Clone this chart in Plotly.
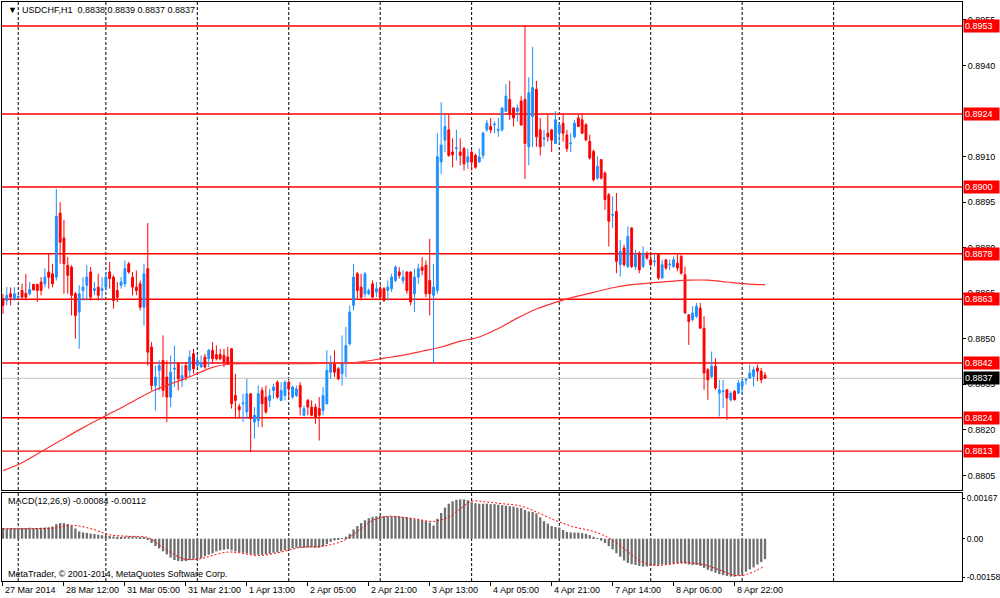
import numpy as np
import pandas as pd
import plotly.graph_objects as go

# === USDCHF H1 candles (first bar 27 Mar 2014 20:00) ===
open_ = [
    0.88632, 0.88626, 0.88648, 0.88632, 0.88637, 0.88659, 0.88650, 0.88648, 0.88679, 0.88679,
    0.88687, 0.88681, 0.88720, 0.88714, 0.88703, 0.88914, 0.88832, 0.88742, 0.88736, 0.88648,
    0.88588, 0.88659, 0.88676, 0.88720, 0.88659, 0.88670, 0.88659, 0.88670, 0.88720, 0.88703,
    0.88659, 0.88676, 0.88681, 0.88747, 0.88703, 0.88670, 0.88681, 0.88604, 0.88731, 0.88473,
    0.88346, 0.88396, 0.88429, 0.88374, 0.88308, 0.88400, 0.88418, 0.88363, 0.88412, 0.88396,
    0.88451, 0.88412, 0.88407, 0.88440, 0.88434, 0.88462, 0.88448, 0.88448, 0.88445, 0.88440,
    0.88467, 0.88313, 0.88277, 0.88286, 0.88259, 0.88319, 0.88226, 0.88231, 0.88330, 0.88308,
    0.88297, 0.88330, 0.88357, 0.88297, 0.88313, 0.88357, 0.88308, 0.88313, 0.88346, 0.88248,
    0.88297, 0.88275, 0.88275, 0.88270, 0.88264, 0.88286, 0.88390, 0.88418, 0.88401, 0.88385,
    0.88418, 0.88484, 0.88610, 0.88714, 0.88670, 0.88648, 0.88648, 0.88681, 0.88654, 0.88665,
    0.88665, 0.88659, 0.88665, 0.88692, 0.88720, 0.88692, 0.88720, 0.88720, 0.88648, 0.88703,
    0.88736, 0.88742, 0.88692, 0.88643, 0.88659, 0.89082, 0.89154, 0.89188, 0.89115, 0.89126,
    0.89115, 0.89126, 0.89082, 0.89115, 0.89104, 0.89082, 0.89104, 0.89188, 0.89199, 0.89205,
    0.89186, 0.89188, 0.89249, 0.89288, 0.89260, 0.89249, 0.89283, 0.89288, 0.89132, 0.89232,
    0.89322, 0.89188, 0.89158, 0.89177, 0.89188, 0.89143, 0.89177, 0.89210, 0.89171, 0.89142,
    0.89165, 0.89227, 0.89221, 0.89205, 0.89150, 0.89117, 0.89029, 0.89090, 0.89046, 0.88974,
    0.88907, 0.88919, 0.88744, 0.88799, 0.88738, 0.88865, 0.88738, 0.88782, 0.88738, 0.88777,
    0.88760, 0.88754, 0.88777, 0.88700, 0.88760, 0.88743, 0.88738, 0.88749, 0.88771, 0.88711,
    0.88579, 0.88563, 0.88574, 0.88601, 0.88535, 0.88398, 0.88376, 0.88409, 0.88321, 0.88326,
    0.88332, 0.88299, 0.88327, 0.88321, 0.88343, 0.88364, 0.88371, 0.88376, 0.88404, 0.88393,
    0.88380]

high = [
    0.88648, 0.88670, 0.88669, 0.88670, 0.88643, 0.88681, 0.88714, 0.88687, 0.88681, 0.88681,
    0.88703, 0.88731, 0.88780, 0.88747, 0.88993, 0.88950, 0.88891, 0.88769, 0.88742, 0.88654,
    0.88676, 0.88703, 0.88742, 0.88736, 0.88687, 0.88714, 0.88703, 0.88720, 0.88753, 0.88709,
    0.88687, 0.88703, 0.88758, 0.88753, 0.88720, 0.88725, 0.88692, 0.88747, 0.88881, 0.88489,
    0.88412, 0.88429, 0.88511, 0.88429, 0.88445, 0.88478, 0.88423, 0.88412, 0.88423, 0.88462,
    0.88467, 0.88445, 0.88445, 0.88450, 0.88467, 0.88489, 0.88478, 0.88467, 0.88467, 0.88473,
    0.88470, 0.88385, 0.88286, 0.88319, 0.88368, 0.88320, 0.88275, 0.88346, 0.88341, 0.88346,
    0.88335, 0.88352, 0.88363, 0.88357, 0.88363, 0.88363, 0.88346, 0.88346, 0.88357, 0.88280,
    0.88302, 0.88297, 0.88286, 0.88308, 0.88341, 0.88462, 0.88445, 0.88462, 0.88407, 0.88511,
    0.88539, 0.88610, 0.88747, 0.88720, 0.88714, 0.88720, 0.88665, 0.88692, 0.88687, 0.88676,
    0.88670, 0.88692, 0.88714, 0.88742, 0.88736, 0.88725, 0.88722, 0.88722, 0.88731, 0.88747,
    0.88769, 0.88758, 0.88829, 0.88747, 0.89177, 0.89279, 0.89238, 0.89238, 0.89160, 0.89188,
    0.89160, 0.89132, 0.89126, 0.89121, 0.89110, 0.89126, 0.89182, 0.89221, 0.89227, 0.89216,
    0.89227, 0.89262, 0.89338, 0.89349, 0.89262, 0.89271, 0.89299, 0.89530, 0.89361, 0.89461,
    0.89349, 0.89227, 0.89188, 0.89238, 0.89190, 0.89249, 0.89210, 0.89238, 0.89188, 0.89177,
    0.89221, 0.89238, 0.89240, 0.89210, 0.89172, 0.89123, 0.89101, 0.89092, 0.89051, 0.88980,
    0.88969, 0.88980, 0.88826, 0.88810, 0.88870, 0.88867, 0.88793, 0.88788, 0.88804, 0.88788,
    0.88782, 0.88777, 0.88779, 0.88760, 0.88762, 0.88760, 0.88771, 0.88777, 0.88777, 0.88738,
    0.88580, 0.88607, 0.88618, 0.88618, 0.88574, 0.88404, 0.88458, 0.88436, 0.88365, 0.88365,
    0.88334, 0.88327, 0.88332, 0.88365, 0.88365, 0.88371, 0.88415, 0.88409, 0.88415, 0.88404,
    0.88390]

low = [
    0.88582, 0.88610, 0.88610, 0.88626, 0.88632, 0.88632, 0.88626, 0.88643, 0.88659, 0.88621,
    0.88643, 0.88670, 0.88665, 0.88670, 0.88692, 0.88747, 0.88648, 0.88648, 0.88577, 0.88500,
    0.88467, 0.88626, 0.88626, 0.88626, 0.88643, 0.88626, 0.88626, 0.88659, 0.88665, 0.88599,
    0.88621, 0.88665, 0.88670, 0.88714, 0.88643, 0.88643, 0.88593, 0.88544, 0.88412, 0.88330,
    0.88264, 0.88330, 0.88308, 0.88226, 0.88275, 0.88341, 0.88330, 0.88341, 0.88363, 0.88374,
    0.88385, 0.88407, 0.88405, 0.88401, 0.88407, 0.88418, 0.88429, 0.88429, 0.88407, 0.88415,
    0.88270, 0.88237, 0.88237, 0.88226, 0.88237, 0.88127, 0.88171, 0.88209, 0.88209, 0.88253,
    0.88275, 0.88302, 0.88302, 0.88295, 0.88297, 0.88302, 0.88302, 0.88308, 0.88248, 0.88245,
    0.88248, 0.88245, 0.88220, 0.88165, 0.88248, 0.88284, 0.88368, 0.88374, 0.88363, 0.88346,
    0.88374, 0.88478, 0.88593, 0.88632, 0.88626, 0.88637, 0.88643, 0.88635, 0.88637, 0.88626,
    0.88621, 0.88626, 0.88654, 0.88687, 0.88698, 0.88681, 0.88648, 0.88610, 0.88588, 0.88681,
    0.88709, 0.88637, 0.88577, 0.88418, 0.88648, 0.89043, 0.89115, 0.89099, 0.89065, 0.89087,
    0.89071, 0.89054, 0.89060, 0.89054, 0.89060, 0.89080, 0.89093, 0.89182, 0.89177, 0.89177,
    0.89165, 0.89182, 0.89247, 0.89221, 0.89199, 0.89216, 0.89202, 0.89026, 0.89071, 0.89132,
    0.89132, 0.89104, 0.89132, 0.89149, 0.89115, 0.89141, 0.89143, 0.89149, 0.89115, 0.89115,
    0.89160, 0.89197, 0.89175, 0.89150, 0.89090, 0.89018, 0.89024, 0.89024, 0.88925, 0.88804,
    0.88865, 0.88716, 0.88705, 0.88738, 0.88733, 0.88733, 0.88727, 0.88716, 0.88733, 0.88760,
    0.88738, 0.88738, 0.88694, 0.88698, 0.88727, 0.88727, 0.88733, 0.88722, 0.88711, 0.88583,
    0.88480, 0.88557, 0.88568, 0.88533, 0.88332, 0.88299, 0.88371, 0.88332, 0.88244, 0.88272,
    0.88233, 0.88294, 0.88297, 0.88319, 0.88321, 0.88349, 0.88369, 0.88343, 0.88360, 0.88354,
    0.88370]

close = [
    0.88610, 0.88643, 0.88637, 0.88648, 0.88639, 0.88637, 0.88637, 0.88662, 0.88661, 0.88659,
    0.88659, 0.88703, 0.88703, 0.88681, 0.88904, 0.88818, 0.88747, 0.88709, 0.88643, 0.88577,
    0.88648, 0.88670, 0.88703, 0.88637, 0.88665, 0.88643, 0.88665, 0.88703, 0.88698, 0.88626,
    0.88637, 0.88687, 0.88731, 0.88720, 0.88670, 0.88659, 0.88604, 0.88714, 0.88456, 0.88346,
    0.88374, 0.88412, 0.88330, 0.88308, 0.88390, 0.88403, 0.88368, 0.88379, 0.88374, 0.88440,
    0.88401, 0.88429, 0.88418, 0.88407, 0.88462, 0.88434, 0.88434, 0.88434, 0.88423, 0.88418,
    0.88286, 0.88297, 0.88266, 0.88289, 0.88319, 0.88237, 0.88248, 0.88319, 0.88286, 0.88259,
    0.88313, 0.88341, 0.88308, 0.88330, 0.88357, 0.88335, 0.88341, 0.88335, 0.88275, 0.88270,
    0.88275, 0.88248, 0.88242, 0.88248, 0.88313, 0.88396, 0.88418, 0.88390, 0.88368, 0.88418,
    0.88478, 0.88588, 0.88703, 0.88659, 0.88637, 0.88714, 0.88659, 0.88637, 0.88665, 0.88637,
    0.88626, 0.88670, 0.88703, 0.88736, 0.88709, 0.88703, 0.88659, 0.88621, 0.88703, 0.88731,
    0.88725, 0.88648, 0.88648, 0.88670, 0.89099, 0.89138, 0.89199, 0.89104, 0.89106, 0.89129,
    0.89104, 0.89076, 0.89099, 0.89082, 0.89065, 0.89099, 0.89177, 0.89210, 0.89188, 0.89207,
    0.89189, 0.89260, 0.89299, 0.89238, 0.89227, 0.89260, 0.89204, 0.89143, 0.89310, 0.89327,
    0.89165, 0.89132, 0.89161, 0.89165, 0.89154, 0.89221, 0.89204, 0.89177, 0.89126, 0.89144,
    0.89210, 0.89199, 0.89177, 0.89155, 0.89095, 0.89024, 0.89068, 0.89029, 0.88958, 0.88887,
    0.88909, 0.88755, 0.88788, 0.88744, 0.88837, 0.88738, 0.88777, 0.88727, 0.88782, 0.88766,
    0.88744, 0.88756, 0.88700, 0.88744, 0.88733, 0.88745, 0.88760, 0.88733, 0.88716, 0.88585,
    0.88557, 0.88585, 0.88607, 0.88535, 0.88387, 0.88365, 0.88409, 0.88338, 0.88332, 0.88328,
    0.88305, 0.88321, 0.88299, 0.88354, 0.88360, 0.88366, 0.88387, 0.88398, 0.88393, 0.88365,
    0.88370]

# moving average (red line), read at every 5th bar
ma_idx = list(range(0, 201, 5))
ma_val = [0.88066, 0.88092, 0.88128, 0.88164, 0.88200, 0.88234, 0.88266, 0.88300, 0.88332,
          0.88356, 0.88380, 0.88406, 0.88417, 0.88418, 0.88418, 0.88418, 0.88418, 0.88419,
          0.88420, 0.88426, 0.88436, 0.88446, 0.88459, 0.88473, 0.88492, 0.88506, 0.88534,
          0.88568, 0.88598, 0.88620, 0.88638, 0.88653, 0.88668, 0.88678, 0.88684, 0.88689,
          0.88693, 0.88693, 0.88687, 0.88681, 0.88678]

# MACD(12,26,9) main values (histogram), one per bar
macd_hist = [
    0.00044, 0.00043, 0.00044, 0.00044, 0.00043, 0.00044, 0.00044, 0.00045, 0.00044, 0.00044,
    0.00045, 0.00046, 0.00047, 0.00050, 0.00060, 0.00064, 0.00064, 0.00060, 0.00052, 0.00042,
    0.00030, 0.00026, 0.00024, 0.00021, 0.00019, 0.00016, 0.00014, 0.00012, 0.00011, 0.00009,
    0.00008, 0.00008, 0.00009, 0.00010, 0.00010, 0.00009, 0.00007, 0.00005, -0.00005, -0.00018,
    -0.00030, -0.00040, -0.00052, -0.00065, -0.00078, -0.00088, -0.00092, -0.00093, -0.00092, -0.00088,
    -0.00086, -0.00084, -0.00080, -0.00072, -0.00066, -0.00060, -0.00052, -0.00048, -0.00045, -0.00043,
    -0.00048, -0.00052, -0.00056, -0.00058, -0.00060, -0.00063, -0.00066, -0.00066, -0.00066, -0.00064,
    -0.00062, -0.00058, -0.00056, -0.00052, -0.00048, -0.00044, -0.00040, -0.00037, -0.00037, -0.00037,
    -0.00036, -0.00036, -0.00037, -0.00037, -0.00032, -0.00022, -0.00013, -0.00007, -0.00003, 0.00001,
    0.00008, 0.00020, 0.00038, 0.00052, 0.00064, 0.00076, 0.00084, 0.00090, 0.00092, 0.00093,
    0.00093, 0.00092, 0.00092, 0.00093, 0.00092, 0.00090, 0.00088, 0.00084, 0.00080, 0.00078,
    0.00076, 0.00072, 0.00066, 0.00054, 0.00082, 0.00106, 0.00128, 0.00144, 0.00154, 0.00160,
    0.00162, 0.00162, 0.00158, 0.00150, 0.00146, 0.00144, 0.00144, 0.00144, 0.00142, 0.00142,
    0.00140, 0.00138, 0.00136, 0.00134, 0.00132, 0.00128, 0.00126, 0.00118, 0.00112, 0.00110,
    0.00104, 0.00088, 0.00072, 0.00062, 0.00052, 0.00048, 0.00046, 0.00036, 0.00028, 0.00026,
    0.00025, 0.00025, 0.00023, 0.00020, 0.00015, 0.00008, 0.00001, -0.00008, -0.00018, -0.00030,
    -0.00044, -0.00060, -0.00074, -0.00090, -0.00100, -0.00105, -0.00108, -0.00112, -0.00115, -0.00114,
    -0.00112, -0.00110, -0.00108, -0.00106, -0.00105, -0.00104, -0.00102, -0.00100, -0.00100, -0.00102,
    -0.00106, -0.00108, -0.00108, -0.00112, -0.00120, -0.00128, -0.00134, -0.00140, -0.00146, -0.00150,
    -0.00153, -0.00156, -0.00156, -0.00152, -0.00144, -0.00136, -0.00126, -0.00118, -0.00106, -0.00096,
    -0.00084]

# signal line (red dotted), read at sampled bars
sig_idx = [0, 8, 14, 17, 20, 24, 28, 33, 38, 41, 45, 48, 52, 55, 59, 62, 67, 73, 78, 83,
           87, 90, 94, 97, 101, 104, 108, 113, 117, 120, 123, 127, 131, 136, 141, 145, 150,
           155, 159, 163, 167, 171, 174, 179, 184, 189, 192, 195, 200]
sig_val = [0.00041, 0.00041, 0.00045, 0.00055, 0.00052, 0.00037, 0.00016, 0.00010, 0.00005,
           -0.00025, -0.00066, -0.00085, -0.00082, -0.00069, -0.00055, -0.00058, -0.00069,
           -0.00055, -0.00036, -0.00032, -0.00021, -0.00003, 0.00041, 0.00075, 0.00092,
           0.00089, 0.00082, 0.00071, 0.00089, 0.00123, 0.00154, 0.00151, 0.00144, 0.00134,
           0.00103, 0.00075, 0.00048, 0.00030, 0.00003, -0.00041, -0.00089, -0.00110,
           -0.00107, -0.00099, -0.00107, -0.00134, -0.00151, -0.00148, -0.00112]

levels = [0.8953, 0.8924, 0.8900, 0.8878, 0.8863, 0.8842, 0.8824, 0.8813]
price_ticks = [0.8955, 0.8940, 0.8910, 0.8895, 0.8880, 0.8865, 0.8850, 0.8835, 0.8820, 0.8805]
macd_ticks = [0.00167, 0.0, -0.00158]
macd_ticktext = ["0.00167", "0.00", "-0.00158"]

# === bar times: hourly, market closed Fri 23:00 .. Sun ===
n = len(close)
hours = pd.date_range("2014-03-27 20:00", periods=500, freq="h")
trading = [t for t in hours
           if t.weekday() < 5 and not (t.weekday() == 4 and t.hour == 23)]
times = trading[:n]
x = list(range(n))
midnights = [i for i, t in enumerate(trading[:n + 24]) if t.hour == 0]
label_idx = list(range(0, n, 16))
label_txt = [times[i].strftime("%-d %b %Y") if i == 0 else times[i].strftime("%-d %b %H:%M")
             for i in label_idx]

FONT = "Liberation Sans, Arial, sans-serif"
FS = 9
XR = [-0.26, 251.7]
XDOM = [0.002, 0.962]

fig = go.Figure()

fig.add_trace(go.Candlestick(
    x=x, open=open_, high=high, low=low, close=close,
    increasing=dict(line=dict(color="#1E90FF", width=1), fillcolor="#1E90FF"),
    decreasing=dict(line=dict(color="#FF0000", width=1), fillcolor="#FF0000"),
    whiskerwidth=0, hoverinfo="skip", xaxis="x", yaxis="y"))

fig.add_trace(go.Scatter(
    x=ma_idx, y=ma_val, mode="lines", line=dict(color="#FF3030", width=1.2, shape="spline"),
    hoverinfo="skip", xaxis="x", yaxis="y"))

fig.add_trace(go.Bar(
    x=x, y=macd_hist, marker=dict(color="#6E6E6E", line=dict(width=0)),
    hoverinfo="skip", xaxis="x2", yaxis="y2"))

fig.add_trace(go.Scatter(
    x=sig_idx, y=sig_val, mode="lines",
    line=dict(color="#FF0000", width=1, dash="2px,2px", shape="spline"),
    hoverinfo="skip", xaxis="x2", yaxis="y2"))

shapes = []
for i in midnights:
    for xr, yr in (("x", "y domain"), ("x2", "y2 domain")):
        shapes.append(dict(type="line", xref=xr, yref=yr, x0=i, x1=i, y0=0, y1=1,
                           line=dict(color="black", width=1, dash="3px,2px"), layer="below"))
for lv in levels:
    shapes.append(dict(type="line", xref="x domain", yref="y", x0=0, x1=1, y0=lv, y1=lv,
                       line=dict(color="#FF0000", width=1.4), layer="below"))
shapes.append(dict(type="line", xref="x domain", yref="y", x0=0, x1=1, y0=close[-1], y1=close[-1],
                   line=dict(color="#C0C0C0", width=1), layer="below"))

ann = []
for lv in levels:
    ann.append(dict(x=0.9625, xref="paper", y=lv, yref="y", text=f"{lv:.4f}",
                    showarrow=False, xanchor="left", yanchor="middle", bgcolor="#FF0000",
                    font=dict(family=FONT, size=FS, color="white"), borderpad=1, width=33, align="left"))
ann.append(dict(x=0.9625, xref="paper", y=close[-1], yref="y", text=f"{close[-1]:.4f}",
                showarrow=False, xanchor="left", yanchor="middle", bgcolor="black",
                font=dict(family=FONT, size=FS, color="white"), borderpad=1, width=33, align="left"))
ann.append(dict(x=0.006, xref="paper", y=1 - 10 / 598, yref="paper", showarrow=False,
                xanchor="left", yanchor="middle", font=dict(family=FONT, size=FS, color="black"),
                text=f"▼  USDCHF,H1  {open_[-1]:.4f} {high[-1]:.4f} {low[-1]:.4f} {close[-1]:.4f}"))
ann.append(dict(x=0.006, xref="paper", y=1 - 501 / 598, yref="paper", showarrow=False,
                xanchor="left", yanchor="middle", font=dict(family=FONT, size=FS, color="black"),
                text=f"MACD(12,26,9) {macd_hist[-1]:.5f} {sig_val[-1]:.5f}"))
ann.append(dict(x=0.006, xref="paper", y=1 - 574 / 598, yref="paper", showarrow=False,
                xanchor="left", yanchor="middle", font=dict(family=FONT, size=FS, color="black"),
                text="MetaTrader, © 2001-2014, MetaQuotes Software Corp."))
for i, t in zip(label_idx, label_txt):
    ann.append(dict(x=i, xref="x2", y=1 - 590 / 598, yref="paper", text=t, showarrow=False,
                    xanchor="left", yanchor="middle", xshift=0,
                    font=dict(family=FONT, size=FS, color="black")))

fig.update_layout(
    width=1000, height=598, margin=dict(l=0, r=0, t=0, b=0),
    paper_bgcolor="white", plot_bgcolor="white", showlegend=False,
    bargap=0.4, font=dict(family=FONT, size=FS, color="black"),
    shapes=shapes, annotations=ann,
    xaxis=dict(domain=XDOM, range=XR, anchor="y", showline=True, mirror=True,
               linecolor="black", linewidth=1, showgrid=False, zeroline=False,
               showticklabels=False, ticks="", rangeslider=dict(visible=False)),
    yaxis=dict(domain=[(598 - 490) / 598, (598 - 2) / 598], range=[0.88002, 0.89609],
               anchor="x", side="right", tickvals=price_ticks, tickformat=".4f",
               ticks="outside", ticklen=3, tickcolor="black", showline=True, mirror=True,
               linecolor="black", linewidth=1, showgrid=False, zeroline=False,
               automargin=False, tickfont=dict(family=FONT, size=FS, color="black")),
    xaxis2=dict(domain=XDOM, range=XR, anchor="y2", showline=True, mirror=True,
                linecolor="black", linewidth=1, showgrid=False, zeroline=False,
                tickvals=label_idx, ticks="outside", ticklen=4, tickcolor="black",
                showticklabels=False),
    yaxis2=dict(domain=[(598 - 581) / 598, (598 - 493) / 598], range=[-0.00174, 0.00188],
                anchor="x2", side="right", tickvals=macd_ticks, ticktext=macd_ticktext,
                ticks="outside", ticklen=2, tickcolor="black", showline=True, mirror=True,
                linecolor="black", linewidth=1, showgrid=False, zeroline=False,
                automargin=False, tickfont=dict(family=FONT, size=8.5, color="black")),
)

# page body has an 8px default margin; drop it so the figure sits at the window corner
fig.write_html("out.html", config={"displayModeBar": False},
               post_script="document.body.style.margin='0px';")
